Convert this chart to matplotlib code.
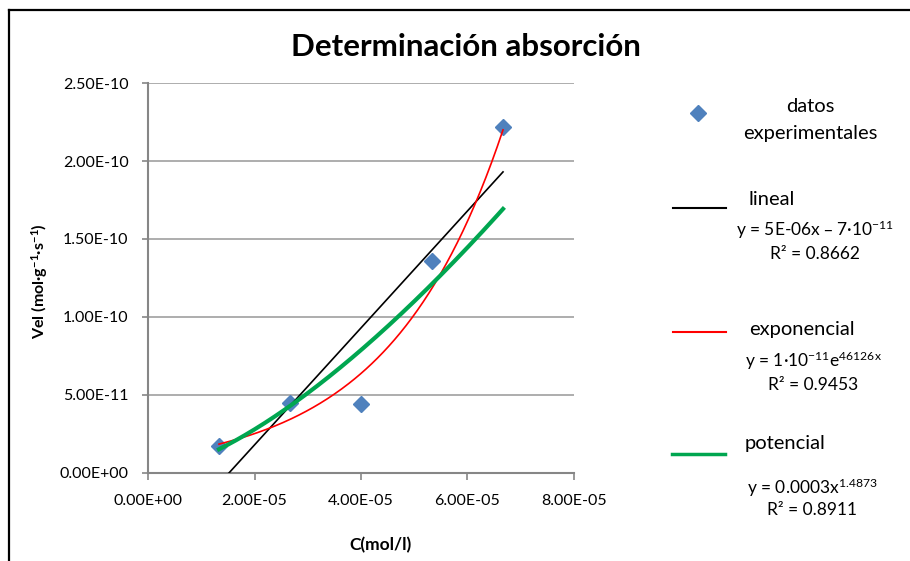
import numpy as np
import matplotlib
matplotlib.use("Agg")
import matplotlib.pyplot as plt
from matplotlib.lines import Line2D

plt.rcParams['font.family'] = ['Lato', 'DejaVu Sans']
plt.rcParams['mathtext.default'] = 'regular'

# datos experimentales
conc = np.array([1.333e-5, 2.667e-5, 4.0e-5, 5.333e-5, 6.667e-5])
vel = np.array([1.75e-11, 4.5e-11, 4.45e-11, 1.36e-10, 2.22e-10])

x_ticks = [0, 2e-5, 4e-5, 6e-5, 8e-5]
x_labels = ["0.00E+00", "2.00E-05", "4.00E-05", "6.00E-05", "8.00E-05"]
y_ticks = [0, 5e-11, 1e-10, 1.5e-10, 2e-10, 2.5e-10]
y_labels = ["0.00E+00", "5.00E-11", "1.00E-10", "1.50E-10", "2.00E-10", "2.50E-10"]

# lineas de tendencia (ajustes sobre los datos)
xx = np.linspace(conc.min(), conc.max(), 200)
m, b = np.polyfit(conc, vel, 1)
k, lnA = np.polyfit(conc, np.log(vel), 1)
p, lnC = np.polyfit(np.log(conc), np.log(vel), 1)

fig = plt.figure(figsize=(9.1, 5.61), dpi=100)
ax = fig.add_axes([148/910, 1 - 473/561, (574-148)/910, (473-83)/561])

ax.plot(xx, m*xx + b, color="black", lw=1.2, zorder=3)
ax.plot(xx, np.exp(lnA)*np.exp(k*xx), color="red", lw=1.2, zorder=3)
ax.plot(xx, np.exp(lnC)*xx**p, color="#00A650", lw=3, zorder=3)
ax.plot(conc, vel, "D", color="#4F81BD", ms=8, zorder=2)

ax.set_xlim(0, 8e-5)
ax.set_ylim(0, 2.5e-10)
ax.set_xticks(x_ticks)
ax.set_xticklabels(x_labels)
ax.set_yticks(y_ticks)
ax.set_yticklabels(y_labels)
ax.tick_params(labelsize=11.5, color="#868686", length=5, width=1.2)
ax.tick_params(axis="x", pad=10)
ax.tick_params(axis="y", length=4, pad=10)
ax.yaxis.grid(True, color="#A0A0A0", lw=1.2)
ax.set_axisbelow(True)
for s in ["top", "right"]:
    ax.spines[s].set_visible(False)
for s in ["left", "bottom"]:
    ax.spines[s].set_color("#868686")
    ax.spines[s].set_linewidth(1.5)

fig.text(466/910, 1 - 47/561, "Determinación absorción", ha="center", va="center",
         fontsize=22.5, fontweight="bold")
fig.text(40/910, 1 - 281/561, "Vel (mol·g$^{-1}$·s$^{-1}$)", rotation=90,
         ha="center", va="center", fontsize=11.5, fontweight="bold")
fig.text(380/910, 1 - 545/561, "C(mol/l)", ha="center", va="center",
         fontsize=12.5, fontweight="bold")

# leyenda
def fx(px):
    return px / 910

def fy(py):
    return 1 - py / 561

fig.add_artist(Line2D([fx(698)], [fy(113)], marker="D", color="#4F81BD", ms=8, ls="none"))
fig.text(fx(810), fy(107), "datos", ha="center", va="center", fontsize=14.5)
fig.text(fx(810), fy(133), "experimentales", ha="center", va="center", fontsize=14.5)

fig.add_artist(Line2D([fx(673), fx(726)], [fy(208), fy(208)], color="black", lw=1.5))
fig.text(fx(749), fy(200), "lineal", ha="left", va="center", fontsize=14.5)
fig.text(fx(815), fy(230), "y = 5E-06x – 7·10$^{-11}$", ha="center", va="center", fontsize=12.5)
fig.text(fx(815), fy(254), "R² = 0.8662", ha="center", va="center", fontsize=12.5)

fig.add_artist(Line2D([fx(673), fx(726)], [fy(332), fy(332)], color="red", lw=1.5))
fig.text(fx(749), fy(330), "exponencial", ha="left", va="center", fontsize=14.5)
fig.text(fx(813), fy(361), "y = 1·10$^{-11}$e$^{46126x}$", ha="center", va="center", fontsize=12.5)
fig.text(fx(813), fy(385), "R² = 0.9453", ha="center", va="center", fontsize=12.5)

fig.add_artist(Line2D([fx(672), fx(725)], [fy(454), fy(454)], color="#00A650", lw=2.5))
fig.text(fx(745), fy(443), "potencial", ha="left", va="center", fontsize=14.5)
fig.text(fx(812), fy(488), "y = 0.0003x$^{1.4873}$", ha="center", va="center", fontsize=12.5)
fig.text(fx(812), fy(510), "R² = 0.8911", ha="center", va="center", fontsize=12.5)

# marco del grafico
fig.add_artist(Line2D([fx(9), fx(910)], [fy(10), fy(10)], color="black", lw=1.6))
fig.add_artist(Line2D([fx(9), fx(9)], [fy(10), fy(561)], color="black", lw=1.6))

fig.savefig("out.png", dpi=100)
